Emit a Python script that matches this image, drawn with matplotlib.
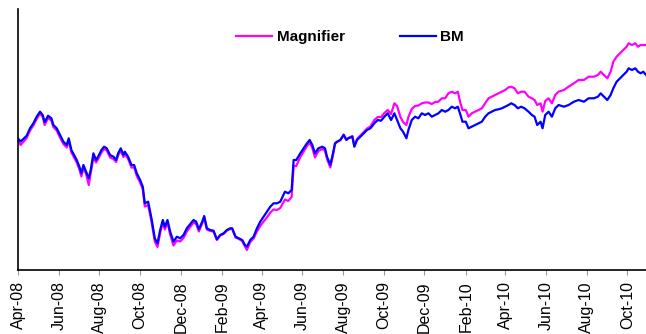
import pandas as pd
import matplotlib
matplotlib.use('Agg')
import matplotlib.pyplot as plt
import matplotlib.dates as mdates

matplotlib.rcParams['font.family'] = ['Liberation Sans', 'DejaVu Sans']

# days after 1 Apr 2008, index levels
days = [0, 4, 13, 18, 23, 28, 33, 37, 40, 45, 50, 53, 58, 63, 68, 73, 76, 80, 84, 88,
        92, 95, 98, 102, 106, 109, 113, 117, 120, 125, 129, 133, 138, 143, 147, 150, 154, 158, 160, 165,
        170, 174, 178, 183, 187, 190, 195, 200, 205, 209, 213, 217, 220, 224, 228, 233, 238, 243, 248, 253,
        259, 263, 267, 271, 276, 279, 283, 288, 293, 298, 303, 308, 313, 318, 321, 326, 331, 336, 340, 343,
        348, 353, 358, 363, 368, 373, 378, 383, 388, 393, 400, 405, 410, 413, 417, 423, 428, 433, 437, 441,
        445, 450, 456, 460, 463, 468, 472, 475, 478, 483, 488, 492, 495, 501, 504, 508, 513, 518, 523, 528,
        534, 539, 544, 549, 554, 559, 564, 568, 573, 577, 582, 585, 590, 595, 600, 605, 610, 615, 620, 625,
        630, 635, 640, 645, 650, 655, 659, 663, 666, 671, 675, 680, 685, 690, 695, 700, 705, 710, 715, 720,
        725, 730, 735, 739, 744, 749, 754, 759, 765, 770, 774, 778, 783, 786, 790, 795, 800, 805, 810, 818,
        825, 833, 840, 848, 855, 863, 869, 873, 878, 883, 888, 892, 897, 902, 907, 912, 915, 920, 925, 929,
        933, 937, 941]

bm = [131.5, 128.5, 134.3, 141.7, 146.7, 153.3, 158.3, 155.0, 147.7, 154.3, 151.7, 145.0, 141.7, 135.0, 128.3, 125.0, 131.7, 120.0, 115.0, 110.0,
      103.3, 96.7, 105.0, 98.3, 91.7, 100.0, 116.7, 110.0, 113.3, 120.0, 123.3, 121.7, 115.0, 113.3, 110.0, 116.7, 121.7, 115.0, 118.3, 113.3,
      105.0, 105.0, 96.7, 90.0, 83.3, 66.7, 68.3, 51.7, 31.7, 26.7, 40.0, 50.0, 43.3, 50.0, 38.3, 28.3, 33.3, 31.7, 35.0, 41.7,
      46.7, 50.0, 48.3, 40.7, 48.3, 54.0, 41.7, 40.0, 39.3, 30.7, 35.0, 36.7, 40.0, 41.7, 41.7, 33.3, 31.7, 30.0, 25.0, 23.3,
      30.0, 33.3, 41.7, 48.3, 53.3, 58.3, 63.3, 66.7, 66.7, 68.3, 78.3, 76.7, 80.0, 110.0, 110.0, 116.7, 121.7, 126.7, 130.0, 125.0,
      116.7, 121.7, 123.3, 121.7, 113.3, 105.0, 116.7, 126.7, 128.3, 130.0, 135.0, 130.0, 131.7, 133.3, 123.3, 130.0, 133.3, 136.7, 140.0, 141.7,
      146.7, 150.0, 149.3, 153.3, 156.7, 150.0, 156.7, 150.0, 141.7, 138.3, 131.7, 140.0, 150.0, 153.3, 151.7, 156.7, 155.0, 156.7, 153.3, 155.0,
      156.7, 160.0, 158.3, 160.0, 163.3, 161.7, 163.3, 155.0, 148.3, 148.3, 141.7, 143.3, 145.0, 146.7, 148.3, 153.3, 156.7, 158.3, 160.0, 160.7,
      161.7, 163.3, 165.0, 166.7, 165.0, 161.7, 163.3, 161.7, 158.3, 155.0, 153.3, 145.0, 148.3, 141.7, 155.0, 158.3, 153.3, 161.7, 165.0, 163.3,
      165.0, 168.3, 170.0, 168.3, 171.7, 171.7, 173.3, 176.7, 173.3, 170.0, 175.0, 181.7, 188.3, 191.7, 195.0, 198.3, 201.7, 200.0, 201.7, 198.3,
      196.7, 198.3, 195.0]

magnifier = [129.5, 125.0, 132.0, 139.5, 144.5, 151.0, 156.5, 153.0, 145.0, 152.0, 149.5, 143.0, 139.5, 132.5, 126.0, 122.5, 129.5, 117.5, 112.5, 107.5,
             100.5, 93.5, 102.5, 96.0, 85.0, 97.0, 113.0, 107.5, 111.0, 117.5, 121.0, 119.5, 112.5, 111.0, 108.0, 114.5, 119.5, 113.0, 116.0, 111.0,
             102.5, 102.5, 94.0, 87.5, 80.5, 63.5, 65.0, 48.5, 28.5, 23.0, 37.0, 47.5, 40.5, 47.5, 35.5, 24.5, 29.5, 28.5, 32.0, 38.5,
             44.0, 47.5, 46.0, 38.5, 46.5, 52.5, 40.5, 39.0, 38.5, 30.0, 34.5, 36.0, 39.5, 41.0, 41.0, 32.5, 31.0, 29.0, 23.5, 20.0,
             28.0, 31.5, 38.5, 44.0, 48.5, 52.5, 57.5, 60.5, 60.0, 62.0, 70.5, 69.0, 73.0, 104.0, 104.0, 113.0, 118.5, 124.0, 127.5, 122.0,
             112.5, 119.0, 121.0, 119.5, 111.0, 102.5, 115.0, 126.0, 128.0, 130.0, 135.5, 130.5, 132.0, 134.0, 124.0, 131.0, 134.5, 138.0, 141.5, 143.5,
             150.0, 153.0, 153.0, 157.0, 160.0, 156.0, 166.7, 164.0, 153.0, 148.0, 145.0, 153.0, 161.0, 164.0, 164.5, 166.7, 167.5, 167.5, 166.0, 168.0,
             168.3, 171.7, 171.7, 176.7, 178.3, 176.7, 178.3, 166.7, 160.0, 160.0, 153.3, 156.7, 158.3, 160.0, 161.7, 166.7, 171.7, 173.3, 175.0, 176.7,
             178.3, 180.0, 182.7, 183.3, 181.7, 176.7, 178.3, 178.3, 173.3, 171.7, 170.0, 165.0, 166.7, 158.3, 169.0, 171.7, 166.7, 175.0, 178.3, 180.0,
             183.3, 186.7, 190.0, 190.0, 193.3, 193.3, 195.0, 198.3, 195.0, 191.7, 198.3, 208.3, 213.3, 216.7, 220.0, 223.3, 226.7, 225.0, 226.7, 223.3,
             225.0, 225.0, 225.0]

start = pd.Timestamp('2008-04-01')
dates = start + pd.to_timedelta(days, unit='D')

fig = plt.figure(figsize=(6.46, 3.34), dpi=100)
ax = fig.add_axes([18 / 646, 64 / 334, 628 / 646, 261 / 334])

ax.plot(dates, magnifier, color='#FF00FF', lw=1.6, label='Magnifier')
ax.plot(dates, bm, color='#0000FF', lw=1.6, label='BM')

ax.set_xlim(start, start + pd.Timedelta(days=941))
ax.set_ylim(0, 261)

ax.xaxis.set_major_locator(mdates.MonthLocator(bymonth=[2, 4, 6, 8, 10, 12]))
ax.xaxis.set_major_formatter(mdates.DateFormatter('%b-%y'))
ax.tick_params(axis='x', length=3.6, width=0.8, color='#999999', pad=4.5,
               labelsize=11.5, labelrotation=90)
ax.set_yticks([])

for side in ['top', 'right']:
    ax.spines[side].set_visible(False)
ax.spines['left'].set_linewidth(1.2)
ax.spines['bottom'].set_linewidth(1.2)

leg = ax.legend(loc='center', bbox_to_anchor=(350 / 646, 1 - 37.3 / 334),
                bbox_transform=fig.transFigure, ncol=2, frameon=False,
                handlelength=2.35, handletextpad=0.3, columnspacing=3.6,
                prop={'weight': 'bold', 'size': 11})

fig.savefig('out.png', dpi=100)
